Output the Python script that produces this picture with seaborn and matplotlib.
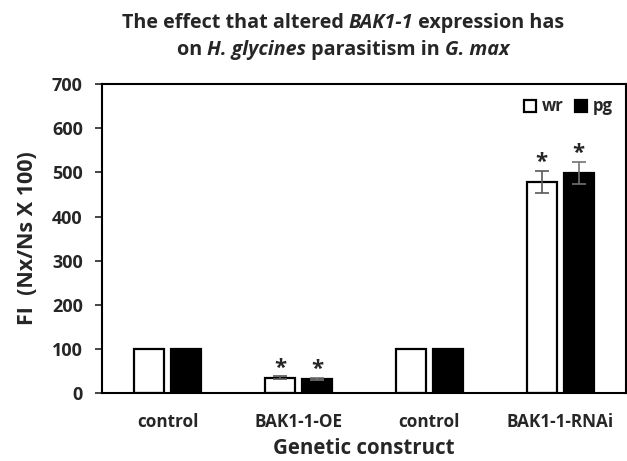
import pandas as pd
import numpy as np
import matplotlib.pyplot as plt
import seaborn as sns

# Data
constructs = ["control", "BAK1-1-OE", "control ", "BAK1-1-RNAi"]
tick_labels = ["control", "BAK1-1-OE", "control", "BAK1-1-RNAi"]
wr_values = [100, 35, 100, 479]
pg_values = [100, 32, 100, 499]
wr_err = [0, 3, 0, 25]
pg_err = [0, 3, 0, 25]
wr_star = [False, True, False, True]
pg_star = [False, True, False, True]

title_line1 = [("The effect that altered ", "normal"), ("BAK1-1", "italic"), (" expression has", "normal")]
title_line2 = [("on ", "normal"), ("H. glycines", "italic"), (" parasitism in ", "normal"), ("G. max", "italic")]

data = pd.DataFrame({
    "construct": constructs * 2,
    "group": ["wr"] * 4 + ["pg"] * 4,
    "FI": wr_values + pg_values,
    "err": wr_err + pg_err,
    "star": wr_star + pg_star,
})

sns.set_style("white")
plt.rcParams['font.family'] = ['Open Sans', 'DejaVu Sans']

fig = plt.figure(figsize=(6.27, 4.61), dpi=100)
ax = fig.add_axes([0.163, 0.1475, 0.835, 0.670])

sns.barplot(data=data, x="construct", y="FI", hue="group", order=constructs,
            hue_order=["wr", "pg"], palette={"wr": "white", "pg": "black"},
            width=0.567, gap=0.19, edgecolor="black", linewidth=1.6,
            errorbar=None, ax=ax)

# error bars and significance stars on top of each bar
for container, g in zip(ax.containers, ["wr", "pg"]):
    sub = data[data["group"] == g].reset_index(drop=True)
    for bar, (_, row) in zip(container, sub.iterrows()):
        xc = bar.get_x() + bar.get_width() / 2
        top = bar.get_height()
        if row["err"] > 0:
            ecol = "0.35" if g == "wr" else "0.45"
            ax.errorbar(xc, top, yerr=row["err"], fmt="none", ecolor=ecol,
                        elinewidth=1.2, capsize=5, capthick=1.2, zorder=5)
        if row["star"]:
            ax.text(xc, top + row["err"] - 6, "*", ha="center", va="bottom",
                    fontsize=16, fontweight="bold")

ax.set_ylim(0, 700)
ax.set_xlim(-0.5, 3.5)
ax.set_yticks(np.arange(0, 701, 100))
ax.set_xticks(range(4))
ax.set_xticklabels(tick_labels)
ax.tick_params(axis="y", which="both", left=True, length=5, width=1.2, direction="out", pad=9)
ax.tick_params(axis="x", bottom=False, pad=11)
for lab in ax.get_xticklabels():
    lab.set_fontsize(12.3)
    lab.set_fontweight("bold")
for lab in ax.get_yticklabels():
    lab.set_fontsize(13)
    lab.set_fontweight("bold")
for sp in ax.spines.values():
    sp.set_visible(True)
    sp.set_color("black")
    sp.set_linewidth(1.5)

ax.set_ylabel("FI  (Nx/Ns X 100)", fontsize=15.5, fontweight="bold", labelpad=10)
ax.set_xlabel("Genetic construct", fontsize=14.8, fontweight="bold", labelpad=5)

leg = ax.legend(loc="upper right", frameon=False, fontsize=12, handlelength=0.75,
                handleheight=0.75, handletextpad=0.3, columnspacing=0.7, ncol=2,
                borderaxespad=0.4)
for t in leg.get_texts():
    t.set_fontweight("bold")


def mixed_line(parts, y, size):
    # draw bold text pieces side by side, some italic, centred as a whole
    renderer = fig.canvas.get_renderer()
    texts = [fig.text(0, y, s, fontsize=size, fontweight="bold", fontstyle=st,
                      va="baseline") for s, st in parts]
    widths = [t.get_window_extent(renderer).width for t in texts]
    x = 343 - sum(widths) / 2
    for t, w in zip(texts, widths):
        t.set_x(x / fig.bbox.width)
        x += w


mixed_line(title_line1, 0.939, 14.2)
mixed_line(title_line2, 0.881, 14.2)

fig.savefig("out.png", dpi=100)
